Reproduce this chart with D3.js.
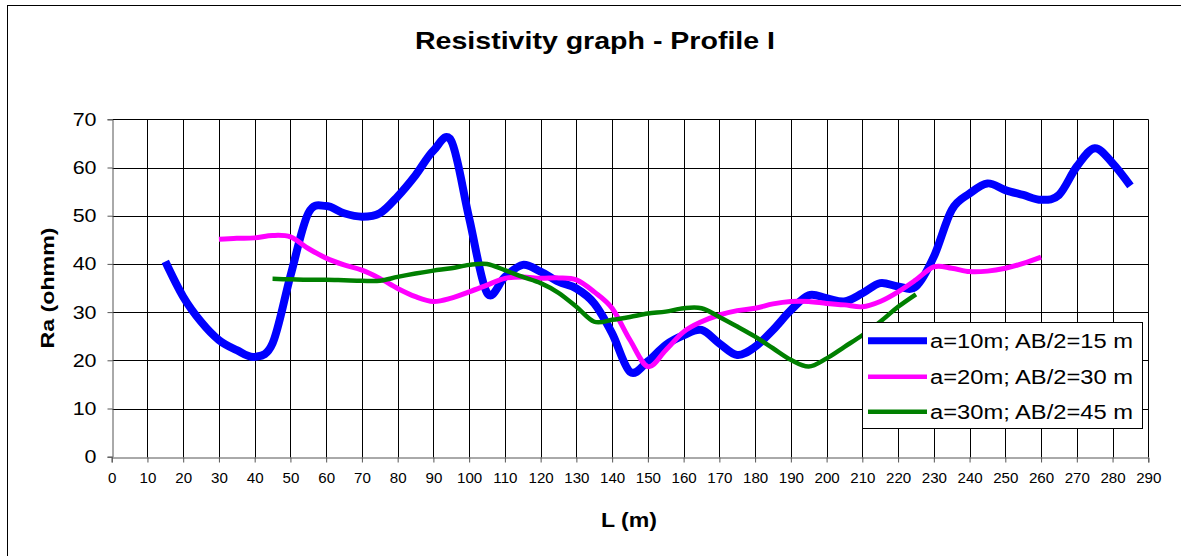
<!DOCTYPE html>
<html><head><meta charset="utf-8">
<script src="https://cdn.jsdelivr.net/npm/d3@7"></script>
<style>
html,body{margin:0;padding:0;background:#fff;}
text{font-family:"Liberation Sans",Arial,sans-serif;}
</style></head>
<body><svg id="c" width="1181" height="556"></svg>
<script>
const xTicks = [0,10,20,30,40,50,60,70,80,90,100,110,120,130,140,150,160,170,180,190,200,210,220,230,240,250,260,270,280,290];
const yTicks = [0,10,20,30,40,50,60,70];

const blueL = [15,20,25,30,35,40,45,50,55,60,65,70,75,80,85,90,95,100,105,110,115,120,125,130,135,140,145,150,155,160,165,170,175,180,185,190,195,200,205,210,215,220,225,230,235,240,245,250,255,260,265,270,275,280,285];
const blueV = [40.5,33.2,28.0,24.2,22.1,20.7,23.5,37.5,50.5,52.0,50.5,49.8,50.5,54.0,58.4,63.5,65.5,49.5,34.0,37.3,39.8,38.4,36.3,34.9,31.8,25.6,17.6,19.8,23.2,25.2,26.3,23.5,21.1,22.8,26.3,30.4,33.5,32.9,32.2,33.9,36.0,35.3,35.3,41.5,51.2,54.6,56.7,55.3,54.3,53.3,54.3,60.2,64.0,60.9,56.2];

const magL = [30,35,40,45,50,55,60,65,70,75,80,85,90,95,100,105,110,115,120,125,130,135,140,145,150,155,160,165,170,175,180,185,190,195,200,205,210,215,220,225,230,235,240,245,250,255,260];
const magV = [45.1,45.3,45.4,45.9,45.6,43.2,41.2,39.8,38.7,37.0,34.9,33.2,32.2,32.9,34.2,35.6,37.0,37.3,37.0,37.1,36.7,34.2,30.8,24.2,18.7,22.1,25.9,28.0,29.4,30.3,30.8,31.7,32.2,32.2,31.8,31.5,31.1,32.2,34.2,36.7,39.4,39.1,38.4,38.5,39.1,40.1,41.4];

const grnL = [45,50,55,60,65,70,75,80,85,90,95,100,105,110,115,120,125,130,135,140,145,150,155,160,165,170,175,180,185,190,195,200,205,210,215,220,225];
const grnV = [36.9,36.8,36.7,36.7,36.6,36.5,36.5,37.3,38.0,38.6,39.1,39.8,40.0,38.7,37.3,36.0,34.0,31.1,28.0,28.4,29.0,29.7,30.1,30.8,30.8,29.0,27.0,24.9,22.5,20.1,18.7,20.4,22.8,25.2,28.0,31.1,33.7];

const seriesNames = ["a=10m; AB/2=15 m","a=20m; AB/2=30 m","a=30m; AB/2=45 m"];
const title = "Resistivity graph - Profile I";
const xTitle = "L (m)";
const yTitle = "Ra (ohmm)";

const svg = d3.select("#c");
function stretch(sel, f){
  sel.each(function(){
    const w = this.getComputedTextLength();
    d3.select(this).attr("textLength", w*f).attr("lengthAdjust","spacingAndGlyphs");
  });
}
// outer frame
svg.append("rect").attr("x",7.5).attr("y",5.5).attr("width",1190).attr("height",570)
  .attr("fill","#fff").attr("stroke","#000").attr("stroke-width",1);

const x = d3.scaleLinear().domain([0,290]).range([111.7,1148.3]);
const y = d3.scaleLinear().domain([0,70]).range([456.7,119.3]);

// gridlines
const g = svg.append("g");
g.selectAll("line.v").data(xTicks.filter(d=>d>0)).join("line")
  .attr("x1",d=>Math.round(x(d))+0.5).attr("x2",d=>Math.round(x(d))+0.5)
  .attr("y1",Math.round(y(70))+0.5).attr("y2",Math.round(y(0))+0.5)
  .attr("stroke","#000").attr("stroke-width",1);
g.selectAll("line.h").data(yTicks.filter(d=>d>0)).join("line")
  .attr("y1",d=>Math.round(y(d))+0.5).attr("y2",d=>Math.round(y(d))+0.5)
  .attr("x1",Math.round(x(0))+0.5).attr("x2",Math.round(x(290))+0.5)
  .attr("stroke","#000").attr("stroke-width",1);

// axes
const yAxis = d3.axisLeft(y).tickValues(yTicks).tickSize(5).tickPadding(11).tickFormat(d3.format("d"));
const ya = svg.append("g").attr("transform",`translate(${Math.round(x(0))+0.5},0)`).call(yAxis);
ya.select(".domain").attr("stroke","#555");
ya.selectAll(".tick line").attr("stroke","#555");
ya.selectAll(".tick text").attr("font-size",19).attr("fill","#000").attr("font-family",null);
stretch(ya.selectAll(".tick text"),1.13);

const xAxis = d3.axisBottom(x).tickValues(xTicks).tickSize(5).tickPadding(11).tickFormat(d3.format("d"));
const xa = svg.append("g").attr("transform",`translate(0,${Math.round(y(0))+0.5})`).call(xAxis);
xa.select(".domain").attr("stroke","#555");
xa.selectAll(".tick line").attr("stroke","#555");
xa.selectAll(".tick text").attr("font-size",14).attr("fill","#000").attr("font-family",null);
stretch(xa.selectAll(".tick text"),1.08);

// lines
const line = d3.line().x(d=>x(d[0])).y(d=>y(d[1])).curve(d3.curveCardinal.tension(0));
const series = [
  {L:blueL, V:blueV, color:"#0000ff", w:8},
  {L:magL, V:magV, color:"#ff00ff", w:5},
  {L:grnL, V:grnV, color:"#008000", w:4.5}
];
series.forEach(s=>{
  svg.append("path").datum(s.L.map((l,i)=>[l,s.V[i]]))
    .attr("d",line).attr("fill","none").attr("stroke",s.color)
    .attr("stroke-width",s.w).attr("stroke-linejoin","round");
});

// titles
svg.append("text").attr("x",595).attr("y",49).attr("text-anchor","middle")
  .attr("font-size",24).attr("font-weight","bold").attr("textLength",360)
  .attr("lengthAdjust","spacingAndGlyphs").text(title);
svg.append("text").attr("transform","translate(54,288) rotate(-90)").attr("text-anchor","middle")
  .attr("font-size",19).attr("font-weight","bold").attr("textLength",121)
  .attr("lengthAdjust","spacingAndGlyphs").text(yTitle);
svg.append("text").attr("x",629).attr("y",527).attr("text-anchor","middle")
  .attr("font-size",20).attr("font-weight","bold").attr("textLength",56)
  .attr("lengthAdjust","spacingAndGlyphs").text(xTitle);

// legend
const lg = svg.append("g");
lg.append("rect").attr("x",862.5).attr("y",322.5).attr("width",280).attr("height",106)
  .attr("fill","#fff").attr("stroke","#000");
const rowsY = [340.7,376.7,411.7];
const legW = [7,4.5,4.5];
seriesNames.forEach((n,i)=>{
  lg.append("line").attr("x1",868).attr("x2",927).attr("y1",rowsY[i]).attr("y2",rowsY[i])
    .attr("stroke",series[i].color).attr("stroke-width",legW[i]);
  lg.append("text").attr("x",930).attr("y",rowsY[i]+7.5).attr("font-size",20)
    .attr("textLength",203).attr("lengthAdjust","spacingAndGlyphs").text(n);
});
</script></body></html>
